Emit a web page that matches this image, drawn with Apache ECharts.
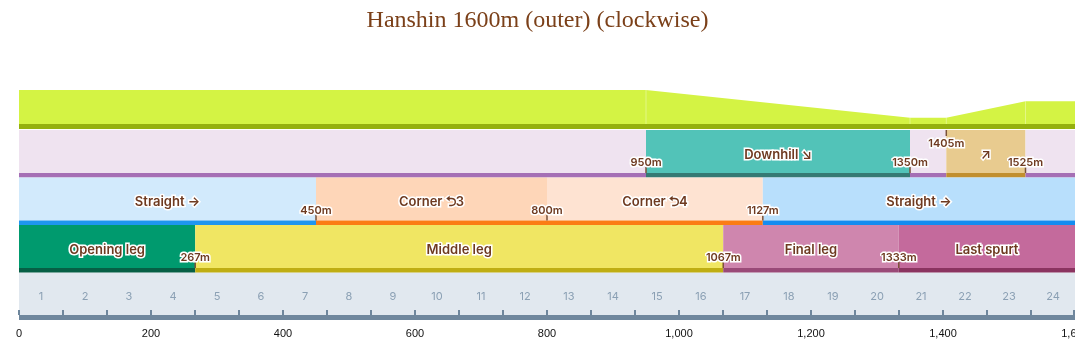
<!DOCTYPE html>
<html><head><meta charset="utf-8">
<script src="https://cdn.jsdelivr.net/npm/echarts@6/dist/echarts.min.js"></script>
<style>html,body{margin:0;padding:0;background:#fff}#c{width:1075px;height:358px}</style>
</head><body><div id="c"></div><script>
// ---------- data ----------
const chartTitle = 'Hanshin 1600m (outer) (clockwise)';
const courseLength = 1600;
const xTickInterval = 200;

const elevDist   = [0, 950, 1350, 1405, 1525, 1600];
const elevHeight = [4.2, 4.2, 1.2, 1.2, 3.0, 3.0];

const slopeStart = [0, 950, 1350, 1405, 1525];
const slopeEnd   = [950, 1350, 1405, 1525, 1600];
const slopeLabel = ['', 'Downhill ↘', '', '↗', ''];
const slopeBounds = [950, 1350, 1405, 1525];
const slopeBoundRaised = [false, false, true, false];

const trackStart = [0, 450, 800, 1127];
const trackEnd   = [450, 800, 1127, 1600];
const trackLabel = ['Straight →', 'Corner ⮌3', 'Corner ⮌4', 'Straight →'];
const trackBounds = [450, 800, 1127];

const phaseStart = [0, 267, 1067, 1333];
const phaseEnd   = [267, 1067, 1333, 1600];
const phaseLabel = ['Opening leg', 'Middle leg', 'Final leg', 'Last spurt'];
const phaseBounds = [267, 1067, 1333];

const furlongLabels = ['1','2','3','4','5','6','7','8','9','10','11','12','13','14','15','16','17','18','19','20','21','22','23','24'];

// ---------- styles ----------
const slopeFill   = ['#efe3f0', '#52c3b8', '#efe3f0', '#e8cb8f', '#efe3f0'];
const slopeStripe = ['#a56fb5', '#357a74', '#a56fb5', '#c18f2e', '#a56fb5'];
const trackFill   = ['#d2eafc', '#fed6b8', '#fee3d2', '#b8dffc'];
const trackStripe = ['#1e96f0', '#fb7c14', '#fb7c14', '#148cf0'];
const phaseFill   = ['#009a6e', '#f0e663', '#cf86ae', '#c46a9c'];
const phaseStripe = ['#065f45', '#bfae13', '#9a4a78', '#8b3460'];
const labelColor = '#6e3a20';
const STRIPE = 4.5;

function segSeries(starts, ends, labels, fills, stripes, row) {
  return {
    type: 'custom', xAxisIndex: 1, yAxisIndex: 1, z: 2,
    data: starts.map((s, i) => [s, ends[i]]),
    renderItem: function (params, api) {
      const i = params.dataIndex;
      const a = api.coord([api.value(0), row]);
      const b = api.coord([api.value(1), row + 1]);
      const w = b[0] - a[0], h = b[1] - a[1];
      const children = [
        { type: 'rect', shape: { x: a[0], y: a[1], width: w, height: h - STRIPE }, style: { fill: fills[i] } },
        { type: 'rect', shape: { x: a[0], y: b[1] - STRIPE, width: w, height: STRIPE }, style: { fill: stripes[i] } }
      ];
      if (labels[i]) {
        children.push({ type: 'text', style: {
          text: labels[i], x: (a[0] + b[0]) / 2, y: (a[1] + b[1]) / 2 + 1,
          align: 'center', verticalAlign: 'middle',
          fontFamily: 'Inter', fontWeight: 600, fontSize: 13,
          fill: labelColor, stroke: '#fff', lineWidth: 3
        }});
      }
      return { type: 'group', children };
    }
  };
}

function boundSeries(bounds, raised, row) {
  return {
    type: 'custom', xAxisIndex: 1, yAxisIndex: 1, z: 5,
    data: bounds.map(b => [b]),
    renderItem: function (params, api) {
      const i = params.dataIndex;
      const top = api.coord([api.value(0), row]);
      const bot = api.coord([api.value(0), row + 1]);
      const x = top[0];
      const up = raised && raised[i];
      let t0, t1, ty;
      if (up) { t0 = top[1]; t1 = top[1] + 6; ty = top[1] + 13.5; }
      else { t1 = bot[1] - STRIPE; t0 = t1 - 6; ty = t1 - 10; }
      return { type: 'group', children: [
        { type: 'line', shape: { x1: x, y1: t0, x2: x, y2: t1 }, style: { stroke: '#7a5238', lineWidth: 1.5 } },
        { type: 'text', style: {
          text: api.value(0) + 'm', x: x, y: ty, align: 'center', verticalAlign: 'middle',
          fontFamily: 'Inter', fontWeight: 600, fontSize: 11,
          fill: labelColor, stroke: '#fff', lineWidth: 3
        }}
      ]};
    }
  };
}

const furlongLen = courseLength / furlongLabels.length;
const furlongBg = {
  type: 'custom', xAxisIndex: 1, yAxisIndex: 1, z: 1, data: [[0, courseLength]],
  renderItem: function (params, api) {
    const a = api.coord([api.value(0), 3]);
    const b = api.coord([api.value(1), 4]);
    return { type: 'group', children: [
      { type: 'rect', shape: { x: a[0], y: a[1], width: b[0] - a[0], height: b[1] - a[1] }, style: { fill: '#e1e8ef' } },
      { type: 'rect', shape: { x: a[0], y: b[1] - 5, width: b[0] - a[0], height: 5 }, style: { fill: '#6f879d' } }
    ]};
  }
};
const furlongSeries = {
  type: 'custom', xAxisIndex: 1, yAxisIndex: 1, z: 2,
  data: furlongLabels.map((l, i) => [i * furlongLen, (i + 1) * furlongLen]),
  renderItem: function (params, api) {
    const i = params.dataIndex;
    const a = api.coord([api.value(0), 3]);
    const b = api.coord([api.value(1), 4]);
    const children = [
      { type: 'line', shape: { x1: a[0], y1: b[1] - 10, x2: a[0], y2: b[1] - 5 }, style: { stroke: '#6f879d', lineWidth: 2 } },
      { type: 'text', style: { text: furlongLabels[i], x: (a[0] + b[0]) / 2, y: a[1] + 24, align: 'center', verticalAlign: 'middle',
        fontFamily: 'Inter', fontSize: 11, fill: '#8ba0b4' } }
    ];
    if (i === furlongLabels.length - 1) {
      children.push({ type: 'line', shape: { x1: b[0] - 1, y1: b[1] - 10, x2: b[0] - 1, y2: b[1] - 5 }, style: { stroke: '#6f879d', lineWidth: 2 } });
    }
    return { type: 'group', children };
  }
};

const chart = echarts.init(document.getElementById('c'), null, { renderer: 'canvas' });
chart.setOption({
  animation: false,
  title: { text: chartTitle, left: 'center', top: 9, padding: 0,
    textStyle: { fontFamily: 'Liberation Serif', fontSize: 24, fontWeight: 'normal', color: '#7b4019' } },
  grid: [
    { left: 19, right: 0, top: 90, height: 39, containLabel: false, outerBoundsMode: 'none' },
    { left: 19, right: 0, top: 130, height: 190, containLabel: false, outerBoundsMode: 'none' }
  ],
  xAxis: [
    { gridIndex: 0, type: 'value', min: 0, max: courseLength, show: false },
    { gridIndex: 1, type: 'value', min: 0, max: courseLength, interval: xTickInterval,
      axisLine: { show: false }, splitLine: { show: false },
      axisTick: { show: true, length: 5, lineStyle: { color: '#222' } },
      axisLabel: { fontFamily: 'Liberation Sans', fontSize: 11, color: '#111', margin: 8 } }
  ],
  yAxis: [
    { gridIndex: 0, type: 'value', min: 0, max: 4.2, show: false },
    { gridIndex: 1, type: 'value', min: 0, max: 4, inverse: true, show: false }
  ],
  series: [
    { type: 'line', xAxisIndex: 0, yAxisIndex: 0, symbol: 'none',
      data: elevDist.map((d, i) => [d, elevHeight[i]]),
      lineStyle: { width: 0 }, areaStyle: { color: '#d4f344', opacity: 1 } },
    { type: 'custom', xAxisIndex: 0, yAxisIndex: 0, z: 3,
      data: elevDist.slice(1, -1).map((d, i) => [d, elevHeight[i + 1]]),
      renderItem: function (params, api) {
        const a = api.coord([api.value(0), 0]);
        const b = api.coord([api.value(0), api.value(1)]);
        return { type: 'line', shape: { x1: a[0], y1: a[1], x2: b[0], y2: b[1] }, style: { stroke: 'rgba(255,255,255,0.35)', lineWidth: 1 } };
      } },
    { type: 'custom', xAxisIndex: 0, yAxisIndex: 0, z: 4, data: [[0, courseLength]],
      renderItem: function (params, api) {
        const a = api.coord([api.value(0), 0]);
        const b = api.coord([api.value(1), 0]);
        return { type: 'rect', shape: { x: a[0], y: a[1] - 5, width: b[0] - a[0], height: 5 }, style: { fill: '#95b00e' } };
      } },
    segSeries(slopeStart, slopeEnd, slopeLabel, slopeFill, slopeStripe, 0),
    segSeries(trackStart, trackEnd, trackLabel, trackFill, trackStripe, 1),
    segSeries(phaseStart, phaseEnd, phaseLabel, phaseFill, phaseStripe, 2),
    furlongBg,
    furlongSeries,
    boundSeries(slopeBounds, slopeBoundRaised, 0),
    boundSeries(trackBounds, null, 1),
    boundSeries(phaseBounds, null, 2)
  ]
});
</script></body></html>
